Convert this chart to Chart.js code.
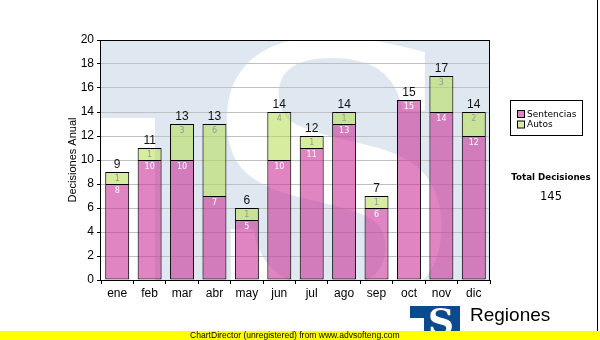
<!DOCTYPE html>
<html>
<head>
<meta charset="utf-8">
<script src="https://cdn.jsdelivr.net/npm/chart.js@4.4.0/dist/chart.umd.min.js"></script>
<style>
  body { margin: 0; background: #fff; }
  canvas { display: block; }
</style>
</head>
<body>
<canvas id="chart" width="600" height="340"></canvas>
<script>
const months = ["ene", "feb", "mar", "abr", "may", "jun", "jul", "ago", "sep", "oct", "nov", "dic"];
const sentencias = [8, 10, 10, 7, 5, 10, 11, 13, 6, 15, 14, 12];
const autos = [1, 1, 3, 6, 1, 4, 1, 1, 1, 0, 3, 2];
const seriesNames = ["Sentencias", "Autos"];
const yMin = 0, yMax = 20, yStep = 2;

const pink = "rgba(204, 51, 153, 0.6)";
const green = "rgba(180, 220, 80, 0.55)";
const totals = months.map((m, i) => sentencias[i] + autos[i]);
const grandTotal = totals.reduce((a, b) => a + b, 0);

// big faded logo behind the bars
const watermark = {
	id: "watermark",
	beforeDraw(chart) {
		const { ctx, chartArea: a } = chart;
		ctx.save();
		ctx.beginPath();
		ctx.rect(a.left, a.top, a.right - a.left, a.bottom - a.top);
		ctx.clip();
		ctx.fillStyle = "#dfe8f1";
		ctx.fillRect(a.left, a.top, a.right - a.left, a.bottom - a.top);
		ctx.fillStyle = "#fff";
		ctx.fillRect(a.left, 118, 54, a.bottom - 118);
		ctx.font = 'bold 360px "DejaVu Serif"';
		ctx.textAlign = "center";
		ctx.textBaseline = "alphabetic";
		ctx.fillText("S", 333, 304);
		ctx.restore();
	},
};

// values inside the segments and totals on top
const barLabels = {
	id: "barLabels",
	afterDatasetsDraw(chart) {
		const { ctx } = chart;
		const yScale = chart.scales.y;
		ctx.save();
		ctx.textAlign = "center";
		ctx.textBaseline = "middle";
		ctx.font = '8px "DejaVu Sans"';
		chart.data.datasets.forEach((ds, di) => {
			const meta = chart.getDatasetMeta(di);
			meta.data.forEach((bar, i) => {
				if (!ds.data[i]) return;
				ctx.fillStyle = di === 0 ? "#fff" : "#999";
				ctx.fillText(ds.data[i], bar.x, bar.y + 7);
			});
		});
		ctx.font = '12px "Liberation Sans"';
		ctx.fillStyle = "#111";
		const meta = chart.getDatasetMeta(0);
		totals.forEach((t, i) => {
			ctx.fillText(t, meta.data[i].x, yScale.getPixelForValue(t) - 7);
		});
		ctx.restore();
	},
};

const extras = {
	id: "extras",
	afterDraw(chart) {
		const { ctx, chartArea: a } = chart;
		ctx.save();
		// plot frame
		ctx.strokeStyle = "#000";
		ctx.lineWidth = 1;
		ctx.strokeRect(a.left - 0.5, a.top + 0.5, a.right - a.left, a.bottom - a.top);
		ctx.fillStyle = "#000";
		ctx.fillRect(597, 0, 1, 331);

		// legend
		ctx.strokeRect(510.5, 100.5, 72, 35);
		const swatches = [pink, green];
		seriesNames.forEach((name, i) => {
			const y = 110.5 + i * 10.5;
			ctx.fillStyle = "#fff";
			ctx.fillRect(517.5, y, 7, 7);
			ctx.fillStyle = swatches[i];
			ctx.fillRect(517.5, y, 7, 7);
			ctx.strokeStyle = "#000";
			ctx.strokeRect(517.5, y, 7, 7);
			ctx.fillStyle = "#000";
			ctx.font = '9px "DejaVu Sans"';
			ctx.textAlign = "left";
			ctx.textBaseline = "middle";
			ctx.fillText(name, 527, y + 4);
		});

		// total box
		ctx.textAlign = "center";
		ctx.font = 'bold 8.7px "DejaVu Sans"';
		ctx.fillText("Total Decisiones", 551, 177.5);
		ctx.font = '11.5px "DejaVu Sans"';
		ctx.fillText(grandTotal, 551, 197);

		// logo
		ctx.fillStyle = "#0c4a8e";
		ctx.fillRect(410, 306, 50, 25);
		ctx.fillStyle = "#fff";
		ctx.fillRect(410, 318, 14, 13);
		ctx.font = 'bold 36px "DejaVu Serif"';
		ctx.textBaseline = "alphabetic";
		ctx.fillText("S", 441, 334);
		ctx.fillStyle = "#000";
		ctx.textAlign = "left";
		ctx.font = '19px "Liberation Sans"';
		ctx.fillText("Regiones", 470, 321);

		// footer banner
		ctx.fillStyle = "#ffff00";
		ctx.fillRect(0, 331, 600, 9);
		const note = "ChartDirector (unregistered) from www.advsofteng.com";
		ctx.font = '10px "Liberation Sans"';
		const size = 10 * 210 / ctx.measureText(note).width;
		ctx.font = size.toFixed(2) + 'px "Liberation Sans"';
		ctx.fillStyle = "#000";
		ctx.textBaseline = "middle";
		ctx.fillText(note, 190, 335.5);
		ctx.restore();
	},
};

new Chart(document.getElementById("chart"), {
	type: "bar",
	data: {
		labels: months,
		datasets: [
			{ label: seriesNames[0], data: sentencias, backgroundColor: pink, borderSkipped: false },
			{ label: seriesNames[1], data: autos, backgroundColor: green, borderSkipped: "bottom" },
		].map(d => Object.assign(d, {
			borderColor: "#000",
			borderWidth: 1,
			barPercentage: 0.74,
			categoryPercentage: 1,
		})),
	},
	options: {
		responsive: false,
		animation: false,
		layout: { padding: { left: 62, top: 40, right: 110, bottom: 0 } },
		plugins: { legend: { display: false }, tooltip: { enabled: false } },
		scales: {
			x: {
				stacked: true,
				afterFit: s => { s.height = 60; },
				border: { display: false },
				grid: { drawOnChartArea: false, tickLength: 4, tickColor: "#000" },
				ticks: { color: "#000", padding: 2, font: { family: "Liberation Sans", size: 12 } },
			},
			y: {
				stacked: true,
				min: yMin,
				max: yMax,
				afterFit: s => { s.width = 39; },
				border: { display: false },
				grid: { color: "#c0c0c0", tickLength: 4, tickColor: "#000" },
				ticks: { stepSize: yStep, color: "#000", padding: 3, font: { family: "Liberation Sans", size: 12 } },
				title: {
					display: true,
					text: "Decisiones Anual",
					color: "#000",
					padding: { top: 4, bottom: 0 },
					font: { family: "Liberation Sans", size: 11 },
				},
			},
		},
	},
	plugins: [watermark, barLabels, extras],
});
</script>
</body>
</html>
